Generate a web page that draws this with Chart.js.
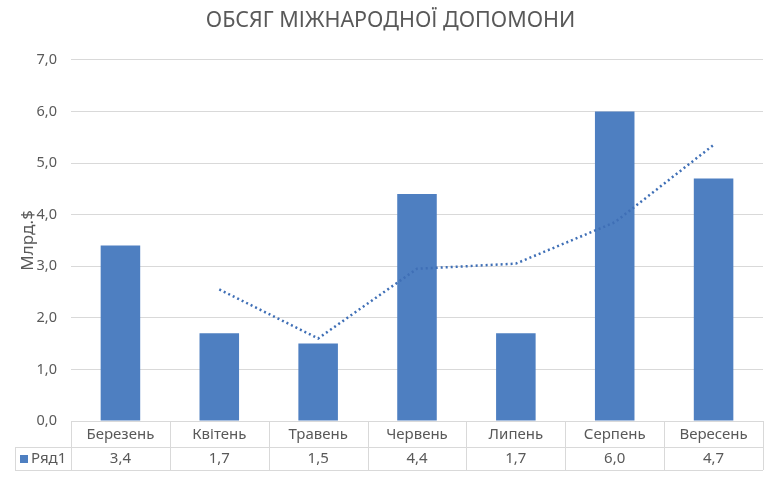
<!DOCTYPE html>
<html>
<head>
<meta charset="utf-8">
<script src="https://cdn.jsdelivr.net/npm/chart.js@4.4.1/dist/chart.umd.min.js"></script>
<style>
  html, body { margin: 0; padding: 0; background: #fff; }
  #wrap { width: 780px; height: 477px; }
</style>
</head>
<body>
<div id="wrap"><canvas id="aid-chart"></canvas></div>
<script>
const months = ['Березень', 'Квітень', 'Травень', 'Червень', 'Липень', 'Серпень', 'Вересень'];
const aidValues = [3.4, 1.7, 1.5, 4.4, 1.7, 6.0, 4.7];
// dotted trend line (no point above the first month)
const trendValues = [null, 2.55, 1.6, 2.95, 3.05, 3.85, 5.35];
const seriesName = 'Ряд1';

const barColor = '#4e7fc1';
const textColor = '#595959';
const lineColor = '#d9d9d9';
const fontFamily = '"Noto Sans", "Open Sans", sans-serif';

const fmt = v => v.toFixed(1).replace('.', ',');

// draws the data table under the plot, lined up with the x scale
const dataTable = {
    id: 'dataTable',
    afterDraw(chart) {
        const { ctx, chartArea, scales } = chart;
        const xs = scales.x;
        const step = xs.getPixelForValue(1) - xs.getPixelForValue(0);
        const right = chartArea.right;
        const row1Top = chartArea.bottom;
        const row2Top = row1Top + 26;
        const row2Bottom = row2Top + 23;
        const outerLeft = 15;

        ctx.save();
        ctx.strokeStyle = lineColor;
        ctx.lineWidth = 1;
        ctx.beginPath();
        ctx.moveTo(outerLeft, row2Top + 0.5); ctx.lineTo(right, row2Top + 0.5);
        ctx.moveTo(outerLeft, row2Bottom + 0.5); ctx.lineTo(right, row2Bottom + 0.5);
        ctx.moveTo(outerLeft + 0.5, row2Top); ctx.lineTo(outerLeft + 0.5, row2Bottom);
        for (let i = 0; i <= months.length; i++) {
            const x = Math.round(xs.getPixelForValue(i) - step / 2) + 0.5;
            ctx.moveTo(x, row1Top); ctx.lineTo(x, row2Bottom);
        }
        ctx.stroke();

        ctx.fillStyle = textColor;
        ctx.font = '15px ' + fontFamily;
        ctx.textAlign = 'center';
        ctx.textBaseline = 'middle';
        months.forEach((m, i) => {
            const x = xs.getPixelForValue(i);
            ctx.fillText(m, x, row1Top + 14);
            ctx.fillText(fmt(aidValues[i]), x, row2Top + 12);
        });

        // legend key
        ctx.fillStyle = barColor;
        ctx.fillRect(20, row2Top + 8, 8, 8);
        ctx.fillStyle = textColor;
        ctx.textAlign = 'left';
        ctx.fillText(seriesName, 31, row2Top + 12);
        ctx.restore();
    }
};

const ctx = document.getElementById('aid-chart').getContext('2d');
new Chart(ctx, {
    type: 'bar',
    data: {
        labels: months,
        datasets: [
            {
                type: 'line',
                label: 'trend',
                data: trendValues,
                borderColor: '#3f6fb6',
                borderWidth: 2.5,
                borderDash: [2, 3],
                pointRadius: 0,
                fill: false,
                tension: 0,
                order: 0
            },
            {
                label: seriesName,
                data: aidValues,
                backgroundColor: barColor,
                categoryPercentage: 0.4,
                barPercentage: 1,
                order: 1
            }
        ]
    },
    options: {
        responsive: true,
        maintainAspectRatio: false,
        animation: false,
        layout: {
            padding: { left: 18, right: 17, bottom: 56 }
        },
        plugins: {
            legend: { display: false },
            tooltip: { enabled: false },
            title: {
                display: true,
                text: 'ОБСЯГ МІЖНАРОДНОЇ ДОПОМОНИ',
                color: textColor,
                font: { family: fontFamily, size: 21.5, weight: 'normal' },
                padding: { top: 8, bottom: 26 }
            }
        },
        scales: {
            x: {
                display: false
            },
            y: {
                min: 0,
                max: 7,
                afterFit: s => { s.width = 53; },
                border: { display: false },
                grid: { color: lineColor, drawTicks: false },
                ticks: {
                    stepSize: 1,
                    padding: 14,
                    color: textColor,
                    font: { family: fontFamily, size: 14.5 },
                    callback: v => fmt(v)
                },
                title: {
                    display: true,
                    text: 'Млрд.$',
                    color: textColor,
                    font: { family: fontFamily, size: 17 },
                    padding: 0
                }
            }
        }
    },
    plugins: [dataTable]
});
</script>
</body>
</html>
